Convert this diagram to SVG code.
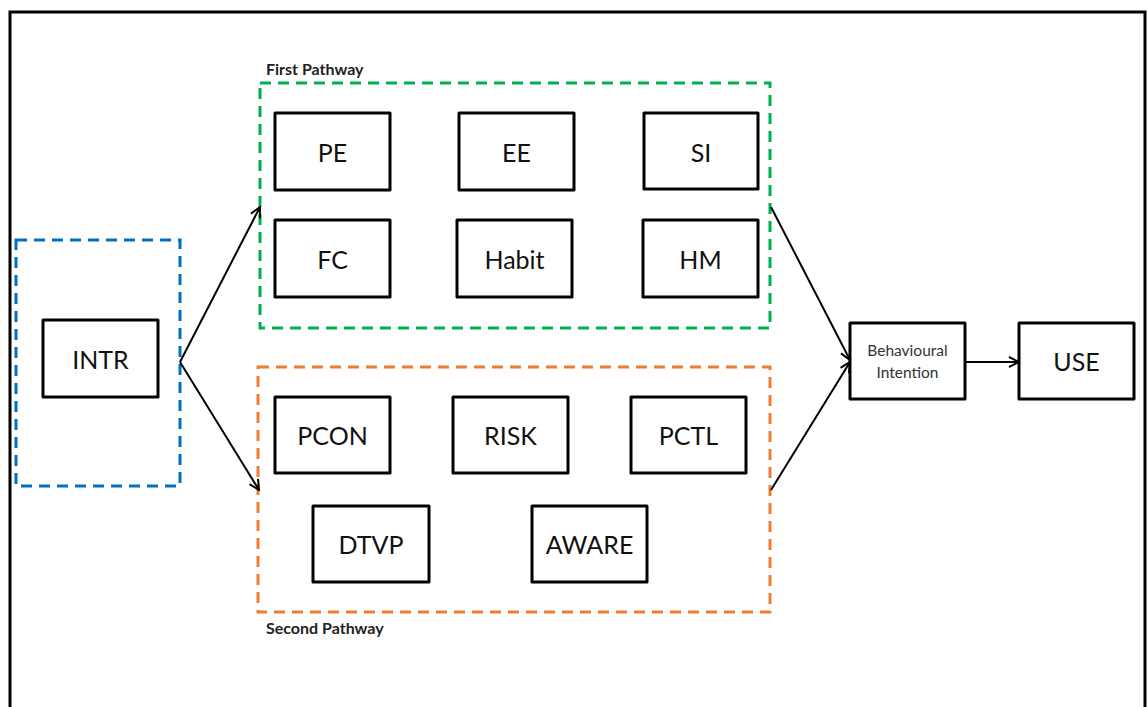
<svg xmlns="http://www.w3.org/2000/svg" width="1148" height="707" viewBox="0 0 1148 707">
  <defs>
    <style>
      .frame { fill: none; stroke: #000; stroke-width: 3; }
      .box { fill: #fff; stroke: #000; stroke-width: 3; stroke-linejoin: round; }
      .group { fill: none; stroke-width: 3; stroke-dasharray: 11 7; }
      .green { stroke: #00b050; }
      .orange { stroke: #ed7d31; }
      .blue { stroke: #0070c0; }
      .lbl { font-family: Lato, "Liberation Sans", sans-serif; font-size: 25px; fill: #111; text-anchor: middle; dominant-baseline: central; }
      .small { font-family: Lato, "Liberation Sans", sans-serif; font-size: 15.5px; fill: #333; text-anchor: middle; }
      .title { font-family: Lato, "Liberation Sans", sans-serif; font-size: 16px; font-weight: bold; fill: #222; }
      .conn { fill: none; stroke: #000; stroke-width: 2; marker-end: url(#arrow); }
    </style>
    <marker id="arrow" viewBox="0 0 12 12" refX="11" refY="6" markerWidth="12" markerHeight="12" markerUnits="userSpaceOnUse" orient="auto">
      <path d="M1,1 L11,6 L1,11" fill="none" stroke="#000" stroke-width="2"/>
    </marker>
  </defs>

  <rect width="1148" height="707" fill="#fff"/>
  <rect class="frame" x="10" y="12" width="1135" height="720"/>

  <!-- pathway groupings -->
  <g id="intr-group">
    <rect class="group blue" x="16" y="240" width="164" height="246"/>
  </g>
  <g id="first-pathway">
    <rect class="group green" x="260" y="83" width="510" height="245"/>
    <text class="title" x="266" y="75">First Pathway</text>
  </g>
  <g id="second-pathway">
    <rect class="group orange" x="258" y="367" width="512" height="245"/>
    <text class="title" x="266" y="634">Second Pathway</text>
  </g>

  <!-- connectors -->
  <g id="connectors">
    <line class="conn" x1="180" y1="362" x2="260" y2="207"/>
    <line class="conn" x1="180" y1="362" x2="259" y2="490"/>
    <line class="conn" x1="771" y1="207" x2="850" y2="360"/>
    <line class="conn" x1="771" y1="490" x2="850" y2="362"/>
    <line class="conn" x1="965" y1="362" x2="1019" y2="362"/>
  </g>

  <!-- nodes -->
  <g id="INTR"><rect class="box" x="43" y="320" width="115" height="77"/><text class="lbl" x="100.5" y="358.5">INTR</text></g>

  <g id="PE"><rect class="box" x="275" y="113" width="115" height="77"/><text class="lbl" x="332.5" y="151.5">PE</text></g>
  <g id="EE"><rect class="box" x="459" y="113" width="115" height="77"/><text class="lbl" x="516.5" y="151.5">EE</text></g>
  <g id="SI"><rect class="box" x="644" y="113" width="114" height="76"/><text class="lbl" x="701" y="151.5">SI</text></g>
  <g id="FC"><rect class="box" x="275" y="220" width="115" height="77"/><text class="lbl" x="332.5" y="258.5">FC</text></g>
  <g id="Habit"><rect class="box" x="457" y="220" width="115" height="77"/><text class="lbl" x="514.5" y="258.5">Habit</text></g>
  <g id="HM"><rect class="box" x="643" y="220" width="115" height="77"/><text class="lbl" x="700.5" y="258.5">HM</text></g>

  <g id="PCON"><rect class="box" x="275" y="397" width="115" height="76"/><text class="lbl" x="332.5" y="435">PCON</text></g>
  <g id="RISK"><rect class="box" x="453" y="397" width="115" height="76"/><text class="lbl" x="510.5" y="435">RISK</text></g>
  <g id="PCTL"><rect class="box" x="631" y="397" width="115" height="76"/><text class="lbl" x="688.5" y="435">PCTL</text></g>
  <g id="DTVP"><rect class="box" x="313" y="506" width="116" height="76"/><text class="lbl" x="371" y="544">DTVP</text></g>
  <g id="AWARE"><rect class="box" x="532" y="506" width="115" height="76"/><text class="lbl" x="589.5" y="544">AWARE</text></g>

  <g id="BI"><rect class="box" x="850" y="323" width="115" height="76"/><text class="small" x="907.5" y="356">Behavioural</text><text class="small" x="907.5" y="378">Intention</text></g>
  <g id="USE"><rect class="box" x="1019" y="323" width="115" height="76"/><text class="lbl" x="1076.5" y="361">USE</text></g>
</svg>
